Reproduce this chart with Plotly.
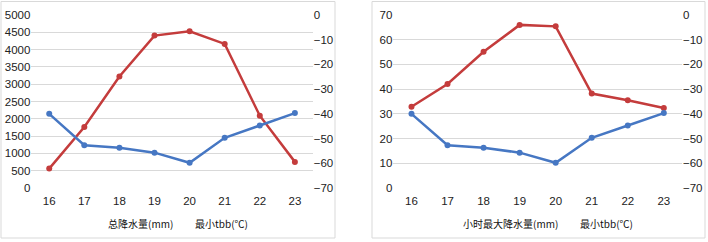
import plotly.graph_objects as go

hours = ["16", "17", "18", "19", "20", "21", "22", "23"]
total_precip = [560, 1765, 3225, 4405, 4530, 4165, 2090, 755]
hourly_max_precip = [32.9, 42.1, 55.1, 66.0, 65.4, 38.2, 35.5, 32.4]
min_tbb = [-40, -52.7, -53.7, -55.7, -59.8, -49.7, -44.7, -39.7]

name_total = "总降水量(mm)"
name_hourly = "小时最大降水量(mm)"
name_tbb = "最小tbb(℃)"

RED = "#C43C3C"
BLUE = "#4677C3"
GRID = "#D9D9D9"
FONT = "Liberation Sans, Arial, sans-serif"

W, H = 708, 242
def px(x): return x / W
def py(y): return 1 - y / H

fig = go.Figure()

line_kw = dict(mode="lines+markers", line=dict(width=2.5), marker=dict(size=6), showlegend=False,
               hoverinfo="skip")

fig.add_trace(go.Scatter(x=hours, y=total_precip, xaxis="x", yaxis="y", name=name_total,
                         line_color=RED, marker_color=RED, **line_kw))
fig.add_trace(go.Scatter(x=hours, y=min_tbb, xaxis="x", yaxis="y2", name=name_tbb,
                         line_color=BLUE, marker_color=BLUE, **line_kw))
fig.add_trace(go.Scatter(x=hours, y=hourly_max_precip, xaxis="x2", yaxis="y3", name=name_hourly,
                         line_color=RED, marker_color=RED, **line_kw))
fig.add_trace(go.Scatter(x=hours, y=min_tbb, xaxis="x2", yaxis="y4", name=name_tbb,
                         line_color=BLUE, marker_color=BLUE, **line_kw))

ydom = [py(188), py(15)]
tickfont = dict(family=FONT, size=11.5, color="#222")

xcommon = dict(type="category", showgrid=False, zeroline=False, showline=False, ticks="",
               tickfont=tickfont, fixedrange=True, automargin=False, ticklabelstandoff=4)
ycommon = dict(zeroline=False, showline=False, tickfont=tickfont, ticks="", automargin=False)
fig.update_layout(
    xaxis=dict(domain=[px(31.4), px(312.7)], anchor="y", **xcommon),
    xaxis2=dict(domain=[px(393.3), px(682)], anchor="y3", **xcommon),
    yaxis=dict(domain=ydom, anchor="x", range=[0, 5000], dtick=500, showgrid=True, gridcolor=GRID,
               gridwidth=1, **ycommon),
    yaxis2=dict(overlaying="y", side="right", anchor="x", range=[-70, 0], dtick=10, showgrid=False,
                **ycommon),
    yaxis3=dict(domain=ydom, anchor="x2", range=[0, 70], dtick=10, showgrid=True, gridcolor=GRID,
                gridwidth=1, **ycommon),
    yaxis4=dict(overlaying="y3", side="right", anchor="x2", range=[-70, 0], dtick=10, showgrid=False,
                **ycommon),
    width=W, height=H,
    margin=dict(l=0, r=0, t=0, b=0),
    paper_bgcolor="white", plot_bgcolor="white",
    showlegend=False,
)

# panel frames
for x0, x1 in [(1, 335), (372, 705)]:
    fig.add_shape(type="rect", xref="paper", yref="paper", x0=px(x0), x1=px(x1), y0=py(238), y1=py(1.5),
                  line=dict(color="#D9D9D9", width=1), fillcolor="rgba(0,0,0,0)", layer="below")

legfont = dict(family="Noto Sans CJK SC, sans-serif", size=10, color="#111")
for text, xc in [(name_total, 140), (name_tbb, 221), (name_hourly, 510), (name_tbb, 606)]:
    fig.add_annotation(text=text, x=px(xc), y=py(223), xref="paper", yref="paper",
                       showarrow=False, xanchor="center", yanchor="middle", font=legfont)

fig.write_html("out.html", config={"displayModeBar": False, "staticPlot": True},
               post_script="document.body.style.margin='0';document.body.style.overflow='hidden';")
